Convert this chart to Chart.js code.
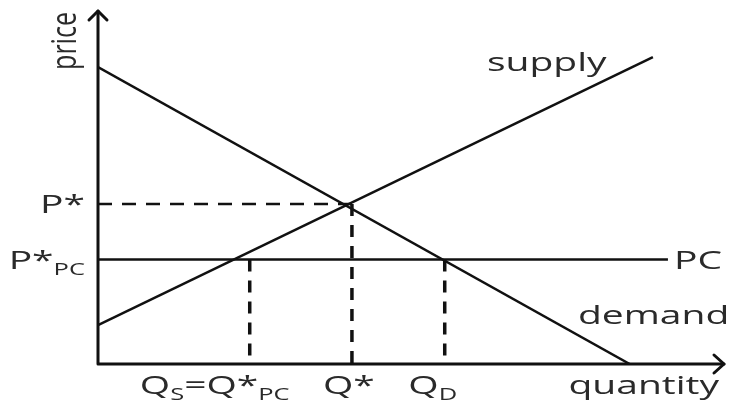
<!DOCTYPE html>
<html>
<head>
<meta charset="utf-8">
<script src="https://cdn.jsdelivr.net/npm/chart.js@4"></script>
<style>
body { margin: 0; background: #fff; }
</style>
</head>
<body>
<canvas id="grafico" width="730" height="409"></canvas>
<script>
// Curvas (unidades 0..100 en cada eje)
const demandaX = [0, 84.8];
const demandaY = [83.9, 0];
const ofertaX = [0, 88.5];
const ofertaY = [11.0, 86.7];
const precioPC = 29.5;
const finPC = 90.9;
const precioEq = 45.2;
const cantidadEq = 40.5;
const cantidadS = 24.2;
const cantidadD = 55.3;

// Etiquetas de los ejes: [texto, esSubindice]
const ticksX = [cantidadS, cantidadEq, cantidadD];
const etiquetasX = [
    [['Q', 0], ['S', 1], ['=Q*', 0], ['PC', 1]],
    [['Q*', 0]],
    [['Q', 0], ['D', 1]]
];
const ticksY = [precioEq, precioPC];
const etiquetasY = [
    [['P*', 0]],
    [['P*', 0], ['PC', 1]]
];
const tituloX = 'quantity';
const tituloY = 'price';
const nombresCurvas = ['supply', 'PC', 'demand'];

const COLOR_LINEA = '#111';
const COLOR_TEXTO = '#2a2a2a';
const FUENTE = '"Open Sans", sans-serif';
const ESTIRAR = 1.5; // el texto del original esta estirado en horizontal

function puntos(xs, ys) {
    return xs.map((x, i) => ({ x: x, y: ys[i] }));
}

function linea(datos, ancho, guiones) {
    return {
        data: datos,
        showLine: true,
        borderColor: COLOR_LINEA,
        borderWidth: ancho,
        borderDash: guiones || [],
        pointRadius: 0,
        fill: false
    };
}

// mide y dibuja un texto con subindices
function anchoSegmentos(ctx, segs, tam, ex) {
    let w = 0;
    segs.forEach(s => {
        ctx.font = (s[1] ? Math.round(tam * 0.64) : tam) + 'px ' + FUENTE;
        w += ctx.measureText(s[0]).width;
    });
    return w * ex;
}

function dibujarSegmentos(ctx, segs, x, y, tam, ex, ey) {
    ctx.save();
    ctx.translate(x, y);
    ctx.scale(ex, ey || 1);
    let cx = 0;
    segs.forEach(s => {
        ctx.font = (s[1] ? Math.round(tam * 0.64) : tam) + 'px ' + FUENTE;
        ctx.fillText(s[0], cx, s[1] ? 6 : 0);
        cx += ctx.measureText(s[0]).width;
    });
    ctx.restore();
}

const pluginEjes = {
    id: 'ejes',
    afterDatasetsDraw(chart) {
        const ctx = chart.ctx;
        const area = chart.chartArea;
        const sx = chart.scales.x;
        const sy = chart.scales.y;

        // ejes con flecha
        ctx.save();
        ctx.strokeStyle = COLOR_LINEA;
        ctx.lineWidth = 3;
        ctx.lineCap = 'round';
        ctx.lineJoin = 'round';
        ctx.beginPath();
        ctx.moveTo(area.left, area.top + 1);
        ctx.lineTo(area.left, area.bottom);
        ctx.lineTo(area.right - 1, area.bottom);
        ctx.stroke();
        ctx.beginPath();
        ctx.moveTo(area.left - 9, area.top + 10);
        ctx.lineTo(area.left, area.top + 1);
        ctx.lineTo(area.left + 9, area.top + 10);
        ctx.moveTo(area.right - 11, area.bottom - 9);
        ctx.lineTo(area.right - 1, area.bottom);
        ctx.lineTo(area.right - 11, area.bottom + 9);
        ctx.stroke();
        ctx.restore();

        ctx.save();
        ctx.fillStyle = COLOR_TEXTO;
        ctx.textBaseline = 'alphabetic';
        const tam = 26;
        const e = ESTIRAR;

        // etiquetas eje x
        const centrosX = [-35, -3, -12];
        ticksX.forEach((v, i) => {
            const w = anchoSegmentos(ctx, etiquetasX[i], tam, e);
            dibujarSegmentos(ctx, etiquetasX[i], sx.getPixelForValue(v) + centrosX[i] - w / 2, 394, tam, e);
        });
        // etiquetas eje y
        ticksY.forEach((v, i) => {
            const w = anchoSegmentos(ctx, etiquetasY[i], tam, e);
            dibujarSegmentos(ctx, etiquetasY[i], area.left - 13 - w, sy.getPixelForValue(v) + 9, tam, e);
        });

        // titulos de ejes
        const wq = anchoSegmentos(ctx, [[tituloX, 0]], tam, e);
        dibujarSegmentos(ctx, [[tituloX, 0]], area.right - 6 - wq, 394, tam, e);
        // 'price' girado: el estiramiento horizontal engorda las letras
        ctx.save();
        ctx.translate(area.left - 22, 41);
        ctx.rotate(-Math.PI / 2);
        const wp = anchoSegmentos(ctx, [[tituloY, 0]], 25, 1);
        dibujarSegmentos(ctx, [[tituloY, 0]], -wp / 2, 0, 25, 1, 1.35);
        ctx.restore();

        // nombres de curvas
        dibujarSegmentos(ctx, [[nombresCurvas[0], 0]], 487, 71, tam, e);
        dibujarSegmentos(ctx, [[nombresCurvas[1], 0]], sx.getPixelForValue(finPC) + 6, sy.getPixelForValue(precioPC) + 9, tam, e);
        dibujarSegmentos(ctx, [[nombresCurvas[2], 0]], 578, 324, tam, e);
        ctx.restore();
    }
};

new Chart(document.getElementById('grafico').getContext('2d'), {
    type: 'scatter',
    data: {
        datasets: [
            linea(puntos(demandaX, demandaY), 2.5),
            linea(puntos(ofertaX, ofertaY), 2.5),
            linea([{ x: 0, y: precioPC }, { x: finPC, y: precioPC }], 2.5),
            linea([{ x: 0, y: precioEq }, { x: cantidadEq, y: precioEq }], 2.5, [14, 10]),
            linea([{ x: cantidadEq, y: precioEq }, { x: cantidadEq, y: 0 }], 3.5, [12, 9]),
            linea([{ x: cantidadS, y: precioPC }, { x: cantidadS, y: 0 }], 3.5, [12, 9]),
            linea([{ x: cantidadD, y: precioPC }, { x: cantidadD, y: 0 }], 3.5, [12, 9])
        ]
    },
    options: {
        responsive: false,
        animation: false,
        devicePixelRatio: 1,
        layout: { padding: { left: 98, right: 5, top: 10, bottom: 45 } },
        scales: {
            x: { type: 'linear', min: 0, max: 100, display: false },
            y: { type: 'linear', min: 0, max: 100, display: false }
        },
        plugins: {
            legend: { display: false },
            tooltip: { enabled: false }
        }
    },
    plugins: [pluginEjes]
});
</script>
</body>
</html>
